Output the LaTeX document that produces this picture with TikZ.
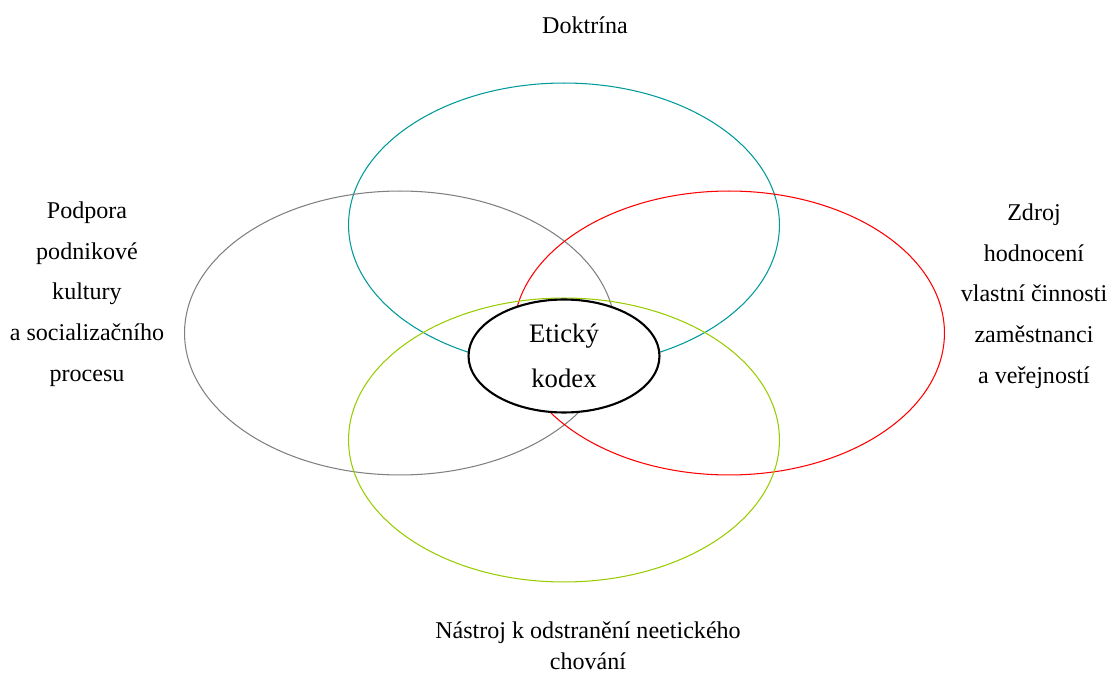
\documentclass[tikz,border=0pt]{standalone}
\usepackage{fontspec}
\setmainfont{Liberation Serif}
\usetikzlibrary{shapes.geometric, positioning}

\definecolor{tealring}{RGB}{0,153,153}
\definecolor{greenring}{RGB}{153,204,0}
\definecolor{grayring}{RGB}{128,128,128}
\definecolor{redring}{RGB}{255,0,0}

\begin{document}
\begin{tikzpicture}[x=0.02cm, y=-0.02cm,
    ring/.style={ellipse, draw, line width=0.6pt, minimum width=8.62cm, minimum height=5.68cm, inner sep=0pt},
    core/.style={ellipse, draw=black, fill=white, line width=1.2pt, minimum width=3.82cm, minimum height=2.26cm, inner sep=0pt, align=center, font=\fontsize{15.2}{25.5}\selectfont},
    lbl/.style={align=center, inner sep=0pt, font=\fontsize{13.7}{23.2}\selectfont},
]
\useasboundingbox (0,0) rectangle (1117,675);
% four rings
\node[ring, draw=tealring] (doktrina) at (564,225) {};
\node[ring, draw=grayring] (podpora) at (400,333) {};
\node[ring, draw=redring] (zdroj) at (729,333) {};
\node[ring, draw=greenring] (nastroj) at (564,440) {};
% centre
\node[core] (kodex) at (564,356) {Etický\\kodex};
% labels
\node[lbl] (tdoktrina) at (585,25) {Doktrína};
\node[lbl] (tpodpora) at (87,294) {Podpora\\podnikové\\kultury\\a socializačního\\procesu};
\node[lbl] (tzdroj) at (1034,296) {Zdroj\\hodnocení\\vlastní činnosti\\zaměstnanci\\a veřejností};
\node[lbl, font=\fontsize{13.7}{17.5}\selectfont] (tnastroj) at (588,646) {Nástroj k odstranění neetického\\chování};
\end{tikzpicture}
\end{document}
